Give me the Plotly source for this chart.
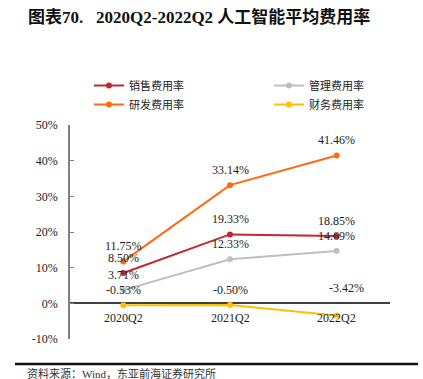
import plotly.graph_objects as go

categories = ["2020Q2", "2021Q2", "2022Q2"]
sales = [8.50, 19.33, 18.85]
admin = [3.71, 12.33, 14.69]
rnd = [11.75, 33.14, 41.46]
finance = [-0.53, -0.50, -3.42]
series_names = ["销售费用率", "管理费用率", "研发费用率", "财务费用率"]
y_ticks = [-10, 0, 10, 20, 30, 40, 50]

colors = ["#C0282E", "#BFBFBF", "#FF6A0E", "#FFC000"]
series = [sales, admin, rnd, finance]
legend_ids = ["legend", "legend2", "legend", "legend2"]

W, H = 423, 379
ML, MR, MT, MB = 70, 33, 125, 40
PW, PH = W - ML - MR, H - MT - MB

def px2paper_x(px):
    return (px - ML) / PW

def px2paper_y(py):
    return (H - MB - py) / PH

SERIF = "Times New Roman, Liberation Serif, Noto Sans CJK SC, serif"

fig = go.Figure()
for name, vals, col, lg in zip(series_names, series, colors, legend_ids):
    fig.add_trace(go.Scatter(
        x=categories, y=vals, name=name, mode="lines+markers", legend=lg,
        line=dict(color=col, width=2), marker=dict(color=col, size=6),
    ))

ann = []
for si, (vals, col) in enumerate(zip(series, colors)):
    for ci, v in enumerate(vals):
        xs, ys = 0, 15
        if si == 3 and ci == 2:
            xs, ys = 10, 28
        ann.append(dict(x=categories[ci], y=v, text=f"{v:.2f}%", showarrow=False,
                        xshift=xs, yshift=ys, font=dict(family=SERIF, size=12, color="#222")))

for c in categories:
    ann.append(dict(x=c, y=0, text=c, showarrow=False, yshift=-15,
                    font=dict(family=SERIF, size=12, color="#222")))

ann.append(dict(xref="paper", yref="paper", x=px2paper_x(26), y=px2paper_y(17),
                xanchor="left", yanchor="middle", showarrow=False,
                text="<b>图表70.&nbsp;&nbsp;&nbsp;2020Q2-2022Q2 人工智能平均费用率</b>",
                font=dict(family=SERIF, size=17, color="#111")))
ann.append(dict(xref="paper", yref="paper", x=px2paper_x(25), y=px2paper_y(373),
                xanchor="left", yanchor="middle", showarrow=False,
                text="资料来源：Wind，东亚前海证券研究所",
                font=dict(family=SERIF, size=11, color="#333")))

leg_common = dict(orientation="v", xanchor="left", yanchor="top", itemwidth=30,
                  font=dict(family=SERIF, size=11, color="#222"), tracegroupgap=0,
                  bgcolor="rgba(0,0,0,0)")

fig.update_layout(
    width=W, height=H,
    margin=dict(l=ML, r=MR, t=MT, b=MB),
    paper_bgcolor="white", plot_bgcolor="white",
    showlegend=True,
    legend=dict(x=px2paper_x(89), y=px2paper_y(71), **leg_common),
    legend2=dict(x=px2paper_x(269), y=px2paper_y(71), **leg_common),
    annotations=ann,
    shapes=[dict(type="line", xref="paper", yref="paper",
                 x0=px2paper_x(15), x1=px2paper_x(418), y0=px2paper_y(364), y1=px2paper_y(364),
                 line=dict(color="#111", width=2.5))],
    xaxis=dict(type="category", range=[-0.5, 2.5], showticklabels=False, showgrid=False,
               showline=False, zeroline=False, ticks=""),
    yaxis=dict(range=[-10, 50], tickvals=y_ticks, ticktext=[f"{t}%" for t in y_ticks],
               showgrid=False, showline=True, linecolor="#808080", linewidth=1.5,
               ticks="inside", ticklen=4, tickcolor="#808080",
               zeroline=True, zerolinecolor="#404040", zerolinewidth=1.5,
               ticklabelstandoff=8,
               tickfont=dict(family=SERIF, size=12, color="#222")),
)

fig.write_html("out.html", config={"displayModeBar": False},
               post_script="document.body.style.margin='0';")
